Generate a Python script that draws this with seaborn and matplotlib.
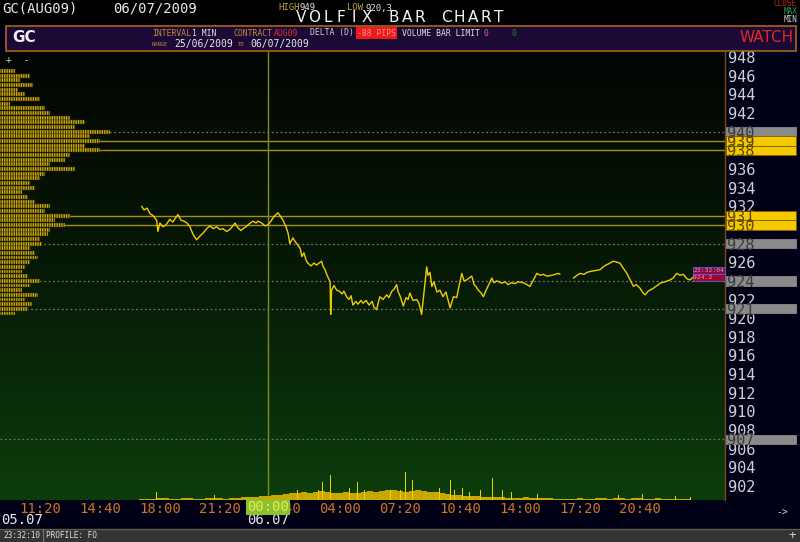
import matplotlib
matplotlib.use('Agg')
import matplotlib.pyplot as plt
import matplotlib.transforms as mtransforms
from matplotlib.colors import LinearSegmentedColormap
from matplotlib.patches import Rectangle
from matplotlib.lines import Line2D
import numpy as np
import pandas as pd
import seaborn as sns

# price path, minutes from 06.07 00:00 (negative = 05.07)
price_min = [-421, -413, -403, -393, -383, -371, -367, -360, -350, -340,
             -327, -317, -307, -300, -290, -280, -270, -260, -250, -238,
             -227, -217, -204, -193, -183, -171, -160, -150, -138, -127,
             -117, -110, -100, -90, -83, -73, -63, -50, -40, -33,
             -21, -10, 0, 10, 20, 33, 40, 50, 60, 67,
             73, 83, 93, 100, 107, 113, 120, 127, 133, 143,
             153, 162, 170, 179, 183, 190, 197, 207, 209, 212,
             220, 229, 237, 247, 253, 262, 270, 277, 283, 293,
             300, 310, 317, 327, 337, 347, 353, 362, 367, 373,
             383, 396, 403, 413, 420, 429, 433, 440, 451, 460,
             467, 473, 483, 496, 503, 512, 520, 529, 533, 540,
             546, 553, 563, 573, 583, 593, 607, 618, 629, 637,
             646, 653, 662, 670, 679, 687, 693, 701, 710, 718,
             727, 733, 746, 753, 763, 779, 790, 800, 812, 823,
             833, 851, 863, 873, 883, 896, 907, 918, 930, 946,
             957, 968, 973, 1018, 1030, 1040, 1053, 1063, 1073, 1090,
             1107, 1117, 1127, 1140, 1150, 1163, 1173, 1183, 1196, 1207,
             1218, 1227, 1240, 1250, 1257, 1267, 1273, 1284, 1297, 1307,
             1323, 1340, 1350, 1362, 1373, 1384, 1397, 1407, 1417, 1429]
price_val = [932.0, 931.6, 931.8, 931.2, 931.0, 930.5, 929.3, 930.2, 929.8, 930.0,
             930.6, 930.3, 930.8, 931.1, 930.5, 930.4, 930.2, 929.8, 929.0, 928.4,
             928.8, 929.1, 929.6, 929.9, 929.6, 929.8, 929.5, 929.6, 929.3, 929.5,
             929.9, 930.2, 929.7, 929.4, 929.6, 929.8, 930.1, 930.4, 930.2, 930.4,
             930.2, 929.9, 930.0, 930.4, 930.9, 931.3, 931.0, 930.5, 929.8, 929.1,
             928.0, 928.6, 928.1, 927.8, 927.5, 926.6, 927.0, 926.2, 925.9, 925.6,
             925.9, 925.7, 925.9, 926.1, 925.6, 925.2, 924.6, 923.9, 920.4, 923.0,
             923.5, 923.0, 922.9, 922.6, 922.9, 922.3, 922.0, 922.4, 921.4, 921.8,
             921.5, 921.9, 921.6, 921.9, 921.4, 921.8, 921.2, 920.9, 921.6, 922.3,
             922.0, 922.5, 922.2, 922.9, 923.1, 923.6, 922.9, 922.4, 921.3, 922.2,
             922.0, 922.7, 921.9, 922.0, 921.6, 920.4, 922.8, 925.5, 924.6, 924.9,
             923.4, 923.9, 922.8, 923.0, 922.3, 922.8, 921.1, 922.3, 922.2, 923.5,
             924.8, 924.0, 924.1, 924.3, 924.5, 923.6, 923.4, 923.0, 922.7, 922.3,
             923.0, 923.4, 924.3, 923.8, 924.0, 923.75, 923.9, 923.6, 923.8, 923.7,
             923.9, 923.8, 923.6, 923.4, 924.0, 924.8, 924.6, 924.7, 924.5, 924.6,
             924.7, 924.8, 924.7, 924.3, 924.6, 924.8, 924.7, 924.9, 925.0, 925.1,
             925.2, 925.5, 925.7, 925.9, 926.1, 926.0, 925.9, 925.4, 924.8, 924.1,
             923.4, 923.6, 923.2, 922.7, 922.5, 922.9, 923.0, 923.2, 923.5, 923.75,
             923.9, 924.1, 924.3, 924.8, 924.6, 924.7, 924.2, 924.1, 924.4, 924.2]

# volume bars (20 minute blocks) + single minute spikes
vol_min = list(range(-420, 1401, 20))
vol_base = [10, 10, 10, 20, 20, 10, 10, 20, 20, 10, 10, 20, 20, 20, 10, 20, 20, 30, 30, 30, 40,
            40, 50, 50, 60, 70, 70, 80, 70, 80, 90, 80, 70, 70, 80, 70, 70, 80, 90, 80, 90, 100, 100, 90, 80, 90,
            100, 90, 80, 80, 70, 60, 50, 50, 40, 40, 40, 30, 30, 30, 30, 20, 20, 20, 30, 20, 20, 20, 20, 10, 10,
            10, 10, 20, 10, 10, 20, 20, 10, 20, 20, 10, 20, 20, 10, 10, 20, 10, 10, 10, 10, 10]
spike_min = [-370, -177, -60, 20, 60, 97, 130, 150, 167, 183, 207, 220, 240, 260, 273, 297, 323, 350,
             380, 407, 420, 443, 457, 470, 483, 510, 530, 550, 573, 590, 607, 623, 647, 660, 673, 690,
             707, 730, 747, 760, 783, 813, 897, 1133, 1167, 1247, 1357, 1407]
spike_vol = [80, 50, 50, 70, 90, 100, 120, 110, 100, 180, 250, 130, 170, 140, 120, 180, 100, 120,
             110, 100, 150, 100, 280, 160, 200, 280, 150, 150, 120, 130, 200, 100, 120, 90, 80, 90,
             100, 70, 220, 80, 100, 80, 60, 50, 50, 60, 40, 30]

# volume profile by price level
prof_levels = list(np.arange(946.5, 920.4, -0.5))
prof_vol = [60, 120, 80, 132, 72, 100, 160, 40, 180, 200,
            280, 340, 300, 440, 360, 400, 340, 400, 280, 260,
            200, 300, 180, 160, 120, 140, 88, 112, 140, 200,
            180, 280, 220, 260, 200, 192, 160, 168, 120, 140,
            152, 120, 100, 88, 112, 160, 120, 88, 152, 100,
            128, 112, 60]

tick_min = [-760, -560, -360, -160, 40, 240, 440, 640, 840, 1040, 1240]
tick_lab = ['11:20', '14:40', '18:00', '21:20', '00:40', '04:00', '07:20',
            '10:40', '14:00', '17:20', '20:40']
price_ticks = list(range(902, 949, 2))

solid_levels = [939, 938, 931, 930]
dotted_levels = [940, 928, 924, 921, 907]
box_grey = [940, 928, 924, 921, 907]
box_yellow = [939, 938, 931, 930]

W, H = 800, 542


def fx(x):
    return x / W


def fy(y):
    return 1 - y / H


sns.set_theme(style='dark')
plt.rcParams['font.family'] = ['DejaVu Sans Mono', 'DejaVu Sans']
plt.rcParams['hatch.linewidth'] = 0.8

fig = plt.figure(figsize=(8, 5.42), dpi=100, facecolor='#000016')
ax = fig.add_axes([0, fy(500), fx(725), (500 - 52) / H])

# background gradient
bg = LinearSegmentedColormap.from_list('bg', ['#030503', '#061a06', '#0c3d0c'])
ax.imshow(np.linspace(0, 1, 256).reshape(-1, 1), cmap=bg, aspect='auto',
          extent=[0, 1, 0, 1], transform=ax.transAxes, zorder=0)

for lv in solid_levels:
    ax.axhline(lv, color='#a89010', lw=1.0, zorder=2)
for lv in dotted_levels:
    ax.axhline(lv, color='#707070', lw=0.9, ls=(0, (1.5, 2)), zorder=2)
ax.axvline(0, color='#7f8f1f', lw=1, zorder=2)

df = pd.DataFrame({'minute': price_min, 'price': price_val})
df['seg'] = (df['minute'].diff() > 30).cumsum()
sns.lineplot(data=df, x='minute', y='price', units='seg', estimator=None,
             color='#f2cc00', lw=1.0, ax=ax, zorder=4)
ax.set_xlabel('')
ax.set_ylabel('')

ax.text(1418, 925.1, '23:32:04', fontsize=4.6, color='#ff8aa0', ha='left', va='center',
        bbox=dict(boxstyle='square,pad=0.15', fc='#801050', ec='#5a5ae0', lw=0.6), zorder=7)
ax.text(1418, 924.35, '924.2   ', fontsize=4.6, color='#ff8aa0', ha='left', va='center',
        bbox=dict(boxstyle='square,pad=0.15', fc='#a00a28', ec='#5a5ae0', lw=0.6), zorder=7)

# volume
ax_vol = ax.twinx()
ax_vol.bar(vol_min, vol_base, width=20, color='#c8a800', lw=0)
ax_vol.bar(spike_min, spike_vol, width=3, color='#f0d000', lw=0)
ax_vol.set_ylim(0, 4480)
ax_vol.set_yticks([])
ax_vol.grid(False)

# volume profile
ax_prof = ax.twiny()
ax_prof.barh(prof_levels, prof_vol, height=0.42, color='#d0b010', edgecolor='#3a3000',
             hatch='|||||||', lw=0.3)
ax_prof.set_xlim(0, 2900)
ax_prof.set_xticks([])
ax_prof.grid(False)

for a in (ax, ax_vol, ax_prof):
    for s in a.spines.values():
        s.set_visible(False)
ax.spines['right'].set_visible(True)
ax.spines['right'].set_color('#7a4a20')
ax.spines['right'].set_linewidth(1)

# price scale: labels hidden where a level box covers them
ax.yaxis.tick_right()
ax.set_yticks(price_ticks)
ax.set_yticklabels(['' if t in box_grey + box_yellow else str(t) for t in price_ticks])
ax.tick_params(axis='y', length=0, pad=2, labelsize=11, labelcolor='#d0d0d8')
ax.set_xticks(tick_min)
ax.set_xticklabels(tick_lab)
ax.tick_params(axis='x', length=0, pad=1.5, labelsize=10, labelcolor='#cc7422')
ax.grid(False)
ax.set_xlim(-893, 1523)
ax.set_ylim(900.5, 948.54)

# level boxes on the price scale
trans_lv = mtransforms.blended_transform_factory(fig.transFigure, ax.transData)
for lv in box_grey + box_yellow:
    yellow = lv in box_yellow
    fig.add_artist(Rectangle((fx(726), lv - 0.5), fx(70), 1.0, transform=trans_lv,
                             fc='#f5c800' if yellow else '#8a8a8a',
                             ec='#806000' if yellow else '#8a8a8a', lw=0.6, zorder=5))
    fig.text(fx(727), lv, str(lv), transform=trans_lv, ha='left', va='center_baseline',
             fontsize=11, color='#5a4800' if yellow else '#3a3a3a', zorder=6)

# date / time labels
trans_dx = mtransforms.blended_transform_factory(ax.transData, fig.transFigure)
fig.text(0, fy(507), '00:00', transform=trans_dx, ha='center', va='center', fontsize=10,
         color='#e4f050', bbox=dict(boxstyle='square,pad=0.1', fc='#8cc030', ec='none'), zorder=6)
fig.text(fx(1), fy(520), '05.07', ha='left', va='center', fontsize=10, color='#e8e8e8')
fig.text(0, fy(520), '06.07', transform=trans_dx, ha='center', va='center', fontsize=10,
         color='#e8e8e8')
fig.text(fx(782), fy(513), '->', ha='center', va='center', fontsize=7, color='#d0d0d0')

# header
fig.add_artist(Rectangle((0, fy(25)), 1, 25 / H, transform=fig.transFigure, color='black', zorder=0.5))
fig.add_artist(Rectangle((fx(6), fy(51)), fx(790), 25 / H, transform=fig.transFigure,
                         fc='#1c0a36', ec='#a86420', lw=1.2, zorder=0.6))
fig.text(fx(2), fy(9), 'GC(AUG09)', fontsize=10, color='#e8e8e8', va='center')
fig.text(fx(113), fy(9), '06/07/2009', fontsize=10, color='#e8e8e8', va='center')
fig.text(fx(278), fy(8), 'HIGH', fontsize=6.5, color='#c8a040', va='center')
fig.text(fx(299), fy(8), '949', fontsize=6.5, color='#e0e0e0', va='center')
fig.text(fx(347), fy(8), 'LOW', fontsize=6.5, color='#c8a040', va='center')
fig.text(fx(365), fy(8), '920,3', fontsize=6.5, color='#e0e0e0', va='center')
for i, ch in enumerate('VOLFIX BAR CHART'):
    fig.text(fx(301 + i * 13.2), fy(18), ch, ha='center', va='center', fontsize=11,
             family='DejaVu Sans', color='#f4f4f4')
fig.text(fx(797), fy(4), 'CLOSE', ha='right', va='center', fontsize=5.5, color='#d02020')
fig.text(fx(797), fy(12), 'MAX', ha='right', va='center', fontsize=5.5, color='#30a060')
fig.text(fx(797), fy(20), 'MIN', ha='right', va='center', fontsize=5.5, color='#d0d0d0')

fig.text(fx(12), fy(37), 'GC', fontsize=11, fontweight='bold', family='DejaVu Sans',
         color='#f0f0f0', va='center', zorder=2)
row1 = [(152, 'INTERVAL', '#c8883a'), (192, '1 MIN', '#e0e0e0'), (233, 'CONTRACT', '#c8883a'),
        (274, 'AUG09', '#d83030'), (310, 'DELTA (D)', '#d0d0d0'),
        (402, 'VOLUME BAR LIMIT', '#e0e0e0'), (484, '0', '#e06080'), (512, '0', '#308030')]
for x, s, c in row1:
    fig.text(fx(x), fy(33), s, fontsize=5.8, color=c, va='center', zorder=2)
fig.text(fx(357), fy(33), '-88 PIPS', fontsize=5.8, color='#ff9090', va='center', zorder=2,
         bbox=dict(boxstyle='square,pad=0.15', fc='#f01818', ec='none'))
fig.text(fx(794), fy(37), 'WATCH', ha='right', va='center', fontsize=11, family='DejaVu Sans',
         color='#e02828', zorder=2)
fig.text(fx(152), fy(44), 'RANGE', fontsize=4, color='#c8883a', va='center', zorder=2)
fig.text(fx(174), fy(44), '25/06/2009', fontsize=7, color='#e8e8e8', va='center', zorder=2)
fig.text(fx(238), fy(44), 'TO', fontsize=4, color='#c8883a', va='center', zorder=2)
fig.text(fx(250), fy(44), '06/07/2009', fontsize=7, color='#e8e8e8', va='center', zorder=2)
fig.text(fx(6), fy(60), '+  -', fontsize=7, color='#d0d0d0', va='center')

# status bar
fig.add_artist(Rectangle((0, 0), 1, 13 / H, transform=fig.transFigure, fc='#333333', ec='none'))
fig.add_artist(Line2D([0, 1], [13 / H, 13 / H], transform=fig.transFigure, color='#5a5a5a', lw=1))
fig.add_artist(Line2D([fx(43), fx(43)], [0, 13 / H], transform=fig.transFigure, color='#707070', lw=1))
fig.text(fx(3), fy(536), '23:32:10', fontsize=5.6, color='#e0e0e0', va='center')
fig.text(fx(46), fy(536), 'PROFILE: FO', fontsize=5.6, color='#e0e0e0', va='center')
fig.text(fx(792), fy(536), '+', ha='center', va='center', fontsize=9, color='#d0d0d0')

fig.savefig('out.png', dpi=100, facecolor=fig.get_facecolor())
